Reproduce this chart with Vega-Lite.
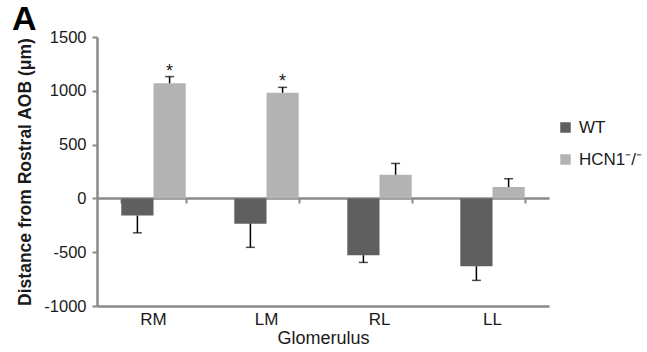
{
  "$schema": "https://vega.github.io/schema/vega-lite/v6.json",
  "width": 452,
  "height": 269,
  "autosize": {"type": "none"},
  "padding": {"left": 97, "top": 37, "right": 98, "bottom": 46},
  "background": "white",
  "config": {
    "view": {"stroke": null},
    "font": "Liberation Sans",
    "axis": {"grid": false}
  },
  "title": {
    "text": "A",
    "anchor": "start",
    "frame": "group",
    "fontSize": 34,
    "fontWeight": "bold",
    "font": "Liberation Sans",
    "color": "#000000",
    "dx": -85,
    "offset": -8
  },
  "data": {
    "values": [
      {"glom": "RM", "geno": "WT", "mean": -160, "end": -320, "star": ""},
      {"glom": "RM", "geno": "HCN1⁻/⁻", "mean": 1070, "end": 1132, "star": "*"},
      {"glom": "LM", "geno": "WT", "mean": -235, "end": -455, "star": ""},
      {"glom": "LM", "geno": "HCN1⁻/⁻", "mean": 982, "end": 1032, "star": "*"},
      {"glom": "RL", "geno": "WT", "mean": -528, "end": -595, "star": ""},
      {"glom": "RL", "geno": "HCN1⁻/⁻", "mean": 220, "end": 325, "star": ""},
      {"glom": "LL", "geno": "WT", "mean": -630, "end": -762, "star": ""},
      {"glom": "LL", "geno": "HCN1⁻/⁻", "mean": 105, "end": 183, "star": ""}
    ]
  },
  "encoding": {
    "x": {
      "field": "glom",
      "type": "nominal",
      "sort": ["RM", "LM", "RL", "LL"],
      "scale": {"paddingInner": 0.43, "paddingOuter": 0.215},
      "axis": null
    },
    "xOffset": {
      "field": "geno",
      "type": "nominal",
      "sort": ["WT", "HCN1⁻/⁻"],
      "scale": {"paddingInner": 0, "paddingOuter": 0}
    }
  },
  "layer": [
    {
      "mark": {"type": "bar"},
      "encoding": {
        "x": {
          "field": "glom",
          "type": "nominal",
          "sort": ["RM", "LM", "RL", "LL"],
          "axis": {
            "title": "Glomerulus",
            "titleFontSize": 18,
            "titleFontWeight": "normal",
            "titleColor": "#1a1a1a",
            "titlePadding": 2,
            "labelAngle": 0,
            "labelFontSize": 17,
            "labelColor": "#1a1a1a",
            "labelPadding": 5,
            "ticks": false,
            "domainColor": "#8a8a8a",
            "domainWidth": 2.5
          }
        },
        "y": {
          "field": "mean",
          "type": "quantitative",
          "scale": {"domain": [-1000, 1500], "nice": false},
          "axis": {
            "title": "Distance from Rostral AOB (μm)",
            "titleFontSize": 17.5,
            "titleFontWeight": "bold",
            "titleColor": "#1a1a1a",
            "titlePadding": 9,
            "values": [-1000, -500, 0, 500, 1000, 1500],
            "labelExpr": "'' + datum.value",
            "labelFontSize": 16.5,
            "labelColor": "#1a1a1a",
            "labelPadding": 6,
            "tickSize": 5,
            "tickColor": "#8a8a8a",
            "tickWidth": 2,
            "domainColor": "#8a8a8a",
            "domainWidth": 2.5
          }
        },
        "color": {
          "field": "geno",
          "type": "nominal",
          "sort": ["WT", "HCN1⁻/⁻"],
          "scale": {"domain": ["WT", "HCN1⁻/⁻"], "range": ["#5f5f5f", "#b3b3b3"]},
          "legend": {
            "title": null,
            "orient": "none",
            "legendX": 460,
            "legendY": 82,
            "symbolType": "square",
            "symbolSize": 110,
            "symbolStrokeWidth": 0,
            "labelFontSize": 17,
            "labelColor": "#1a1a1a",
            "rowPadding": 14,
            "labelOffset": 5
          }
        }
      }
    },
    {
      "mark": {"type": "rule", "color": "#000000", "strokeWidth": 1.5},
      "encoding": {
        "y": {"field": "mean", "type": "quantitative"},
        "y2": {"field": "end"}
      }
    },
    {
      "mark": {"type": "tick", "color": "#000000", "thickness": 1.5, "size": 9, "orient": "horizontal"},
      "encoding": {
        "y": {"field": "end", "type": "quantitative"}
      }
    },
    {
      "mark": {"type": "text", "fontSize": 18, "dy": 0, "baseline": "alphabetic", "color": "#1a1a1a"},
      "encoding": {
        "y": {"field": "end", "type": "quantitative"},
        "text": {"field": "star"}
      }
    },
    {
      "mark": {"type": "rule", "strokeWidth": 0, "color": "#8a8a8a"},
      "encoding": {
        "x": {
          "field": "glom",
          "type": "nominal",
          "sort": ["RM", "LM", "RL", "LL"],
          "axis": {
            "orient": "bottom",
            "offset": -108,
            "labels": false,
            "title": null,
            "tickBand": "extent",
            "tickSize": 5,
            "tickColor": "#8a8a8a",
            "tickWidth": 2,
            "domainColor": "#8a8a8a",
            "domainWidth": 2.5
          }
        },
        "xOffset": null,
        "y": {"datum": 0, "type": "quantitative"}
      }
    }
  ],
  "resolve": {"axis": {"x": "independent"}}
}
